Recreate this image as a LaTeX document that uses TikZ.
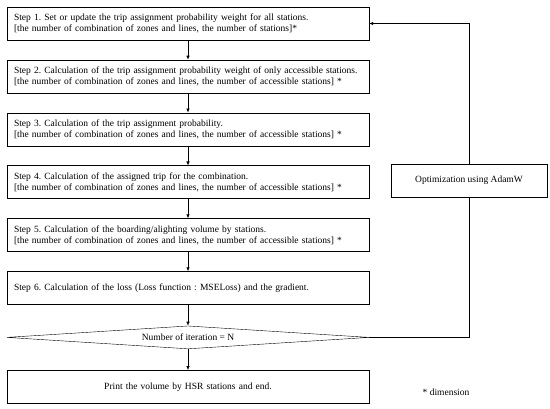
\documentclass[tikz,border=0pt]{standalone}
\usepackage{fontspec}
\setmainfont{Liberation Serif}
\usetikzlibrary{arrows.meta, positioning, shapes.geometric}
\frenchspacing

\begin{document}
\begin{tikzpicture}[
                x=1pt, y=-1pt,
                node distance=19.5pt,
                every node/.style={font=\fontsize{9.5}{11}\selectfont},
                stepbox/.style={draw, rectangle, align=left, text width=348pt, inner xsep=7pt, inner ysep=0pt, minimum height=33pt},
                endbox/.style={stepbox, align=center},
                cond/.style={draw, diamond, aspect=16, inner sep=0pt, minimum width=362pt, minimum height=23pt},
                optbox/.style={draw, rectangle, minimum width=156pt, minimum height=33pt},
                arrow/.style={-{Latex[length=4pt,width=3.5pt]}, line width=0.7pt},
                link/.style={-, line width=0.7pt}]

            \useasboundingbox (0,0) rectangle (550,409);

            % Etapes
            \node[stepbox] (s1) at (188,23.5) {Step 1. Set or update the trip assignment probability weight for all stations.\\ {[}the number of combination of zones and lines, the number of stations]*};
            \node[stepbox, below=of s1] (s2) {Step 2. Calculation of the trip assignment probability weight of only accessible stations.\\ {[}the number of combination of zones and lines, the number of accessible stations] *};
            \node[stepbox, below=of s2] (s3) {Step 3. Calculation of the trip assignment probability.\\ {[}the number of combination of zones and lines, the number of accessible stations] *};
            \node[stepbox, below=of s3] (s4) {Step 4. Calculation of the assigned trip for the combination.\\ {[}the number of combination of zones and lines, the number of accessible stations] *};
            \node[stepbox, below=of s4] (s5) {Step 5. Calculation of the boarding/alighting volume by stations.\\ {[}the number of combination of zones and lines, the number of accessible stations] *};
            \node[stepbox, below=of s5] (s6) {Step 6. Calculation of the loss (Loss function : MSELoss) and the gradient.};
            \node[cond, below=21pt of s6] (iter) {Number of iteration = N};
            \node[endbox, below=21pt of iter] (print) {Print the volume by HSR stations and end.};
            \node[optbox] (optim) at (469,180.5) {Optimization using AdamW};
            \node (dim) at (446,392) {* dimension};

            % Fleches
            \draw[arrow] (s1) -- (s2);
            \draw[arrow] (s2) -- (s3);
            \draw[arrow] (s3) -- (s4);
            \draw[arrow] (s4) -- (s5);
            \draw[arrow] (s5) -- (s6);
            \draw[arrow] (s6) -- (iter);
            \draw[arrow] (iter) -- (print);
            \draw[link] (iter.east) -| (optim.south);
            \draw[arrow] (optim.north) |- (s1.east);

        \end{tikzpicture}
\end{document}
